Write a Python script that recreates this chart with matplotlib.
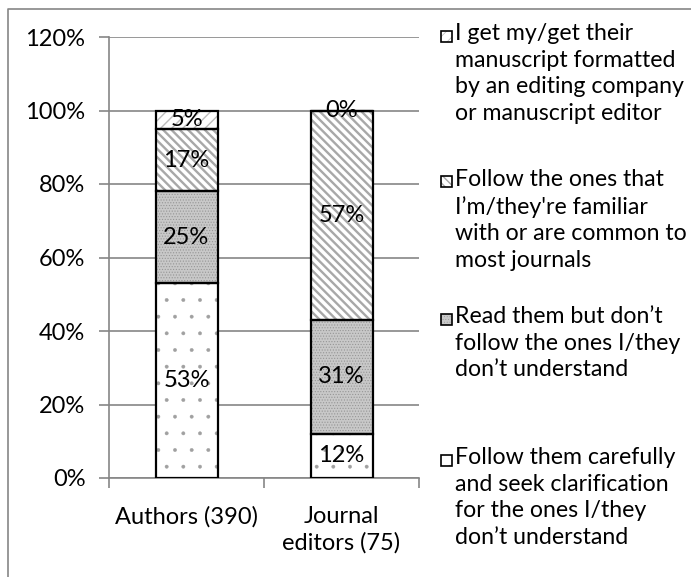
import matplotlib
matplotlib.use("Agg")
import matplotlib.pyplot as plt
from matplotlib.patches import Rectangle
from matplotlib.lines import Line2D
import numpy as np

plt.rcParams['font.family'] = ['Lato', 'DejaVu Sans']

groups = ["Authors (390)", "Journal\neditors (75)"]
series = [
    "Follow them carefully\nand seek clarification\nfor the ones I/they\ndon\u2019t understand",
    "Read them but don\u2019t\nfollow the ones I/they\ndon\u2019t understand",
    "Follow the ones that\nI\u2019m/they're familiar\nwith or are common to\nmost journals",
    "I get my/get their\nmanuscript formatted\nby an editing company\nor manuscript editor",
]
values = [
    [53, 12],
    [25, 31],
    [17, 57],
    [5, 0],
]
yticks = [0, 20, 40, 60, 80, 100, 120]

styles = [
    dict(face="white", hatch=".", hcolor="#a0a0a0", hlw=0.3),
    dict(face="#c8c8c8", hatch="......", hcolor="#969696", hlw=0.5),
    dict(face="white", hatch="\\\\\\\\", hcolor="#a8a8a8", hlw=1.7),
    dict(face="white", hatch="///", hcolor="#bdbdbd", hlw=1.0),
]

FS = 17
LEG_FS = 16.7
GRID = "#868686"

fig = plt.figure(figsize=(6.91, 5.77), dpi=100)
ax = fig.add_axes([109 / 691, 1 - 478 / 577, 310 / 691, 441 / 577])

x = np.arange(len(groups))
width = 0.4
bottom = np.zeros(len(groups))
for vals, st in zip(values, styles):
    with plt.rc_context({"hatch.linewidth": st["hlw"]}):
        ax.bar(x, vals, width, bottom=bottom, color=st["face"], hatch=st["hatch"],
               edgecolor=st["hcolor"], linewidth=0, zorder=2)
    bars = ax.bar(x, vals, width, bottom=bottom, fill=False, edgecolor="black",
                  linewidth=1.6, zorder=3)
    ax.bar_label(bars, labels=[f"{v}%" for v in vals], label_type="center",
                 fontsize=FS, color="black", zorder=4)
    bottom += np.array(vals)

ax.set_xlim(-0.5, 1.5)
ax.set_ylim(0, 120)
ax.set_yticks(yticks)
ax.set_yticklabels([f"{t}%" for t in yticks], fontsize=FS)
ax.set_xticks(x)
ax.set_xticklabels(groups, fontsize=FS, linespacing=1.3)
ax.set_xticks([-0.5, 0.5, 1.5], minor=True)
ax.tick_params(axis="x", which="major", length=0, pad=20)
ax.tick_params(axis="x", which="minor", length=7, color=GRID, width=1.2)
ax.tick_params(axis="y", length=7, color=GRID, width=1.2, pad=10)
ax.yaxis.grid(True, color=GRID, linewidth=1.2, zorder=0)
ax.set_axisbelow(True)
for s in ("top", "right"):
    ax.spines[s].set_visible(False)
for s in ("left", "bottom"):
    ax.spines[s].set_color(GRID)
    ax.spines[s].set_linewidth(1.2)

# legend, top entry first; marker centres in pixels from the top
legend_rows = [36, 182, 319, 460]
for row, idx in zip(legend_rows, range(len(series) - 1, -1, -1)):
    st = styles[idx]
    h = 11 / 577
    w = 11 / 691
    ybot = 1 - (row + 5.5) / 577
    with plt.rc_context({"hatch.linewidth": st["hlw"] * 0.6}):
        fig.add_artist(Rectangle((441 / 691, ybot), w, h, transform=fig.transFigure,
                                 facecolor=st["face"], hatch=st["hatch"], edgecolor=st["hcolor"],
                                 linewidth=0))
    fig.add_artist(Rectangle((441 / 691, ybot), w, h, transform=fig.transFigure,
                             fill=False, edgecolor="black", linewidth=1.2))
    fig.text(455 / 691, 1 - (row - 13) / 577, series[idx], fontsize=LEG_FS, va="top",
             ha="left", linespacing=1.33)

# outer frame
fig.add_artist(Line2D([8 / 691, 8 / 691, 1.0], [0.0, 1 - 9 / 577, 1 - 9 / 577],
                      transform=fig.transFigure, color=GRID, linewidth=1.2))

fig.savefig("out.png", dpi=100)
